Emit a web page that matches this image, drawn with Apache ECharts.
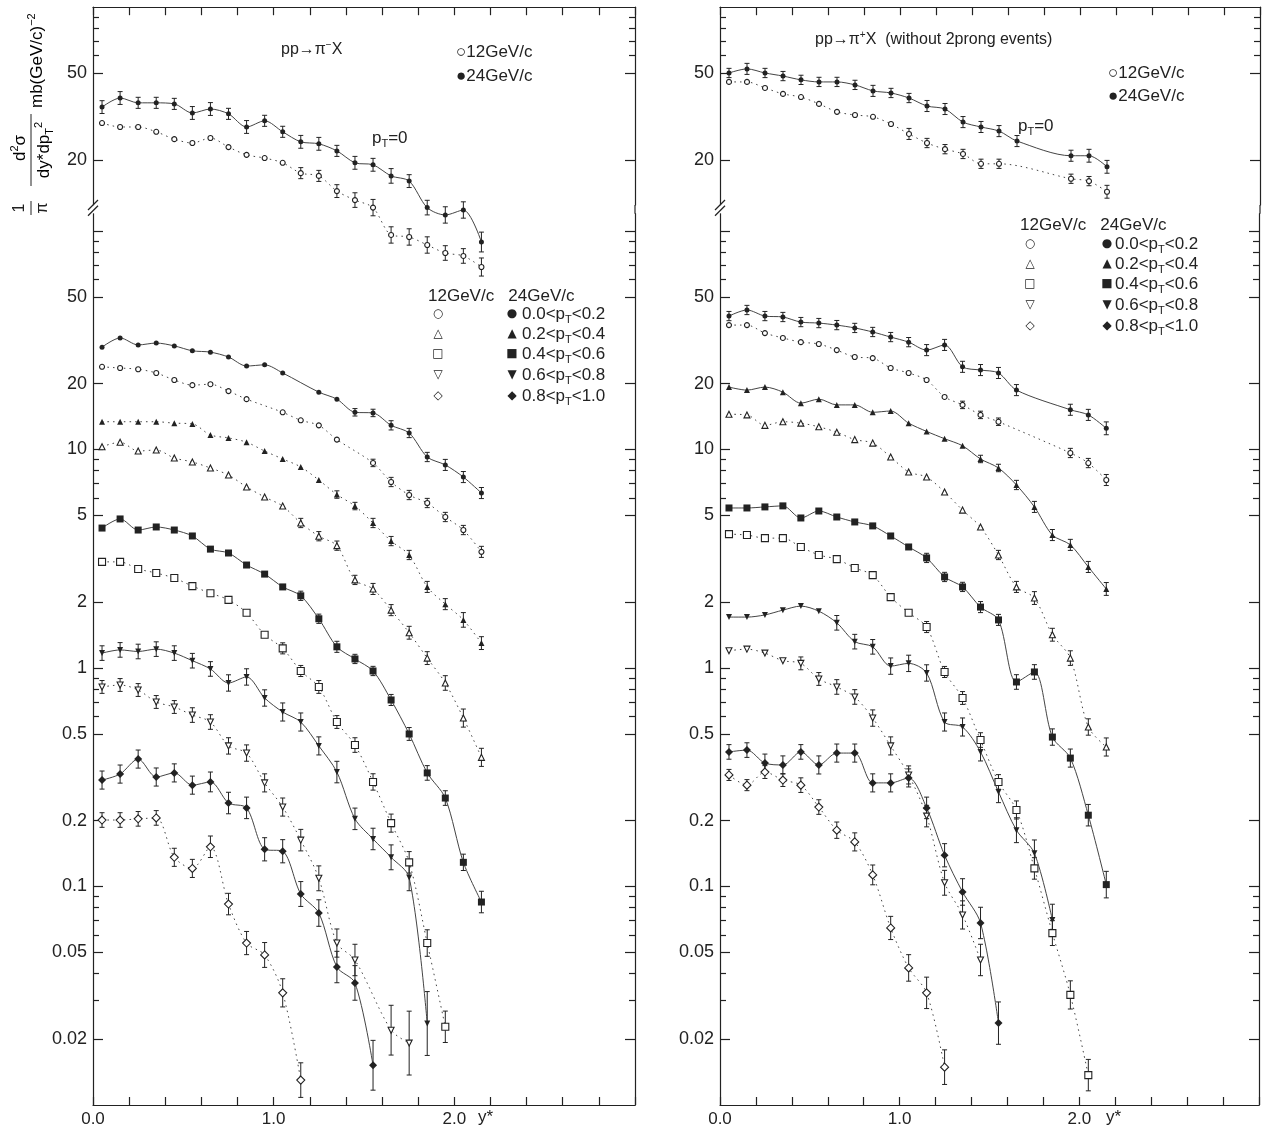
<!DOCTYPE html>
<html><head><meta charset="utf-8">
<script src="https://cdn.jsdelivr.net/npm/echarts@6/dist/echarts.min.js"></script>
<style>html,body{margin:0;padding:0;background:#fff}#c{width:1262px;height:1130px}</style>
</head><body><div id="c"></div>
<script>
// rapidity y* bin centres
const X = [0.05,0.15,0.25,0.35,0.45,0.55,0.65,0.75,0.85,0.95,1.05,1.15,1.25,1.35,1.45,1.55,1.65,1.75,1.85,1.95,2.05,2.15];

// ---- left panel: pp -> pi- X  (values, then error bars in %) ----
const L0_24 = [34.9,38.4,36.5,36.5,36.1,32.8,34.2,32.5,28.3,30.2,26.9,24.2,23.7,22.0,19.4,19.0,16.9,16.0,12.1,11.2,11.8,8.42];
const L0_12 = [29.5,28.3,28.3,26.9,24.9,23.9,25.2,22.9,21.1,20.4,19.4,17.4,16.9,14.4,13.1,12.1,9.07,8.88,8.16,7.50,7.27,6.47];
const L1_24 = [29.4,32.4,30.1,30.7,29.8,28.3,27.9,26.5,24.1,24.4,22.4,null,18.3,17.0,14.8,14.7,12.9,11.9,9.24,8.50,7.48,6.32];
const L1_12 = [23.9,23.6,23.3,22.4,20.8,19.7,19.9,18.5,17.0,null,14.8,13.6,12.9,11.1,null,8.68,7.10,6.19,5.69,4.91,4.28,3.40];
const L2_24 = [13.4,13.4,13.4,13.4,13.2,13.1,11.65,11.3,10.8,9.84,9.05,8.32,7.25,6.22,5.51,4.61,3.81,3.29,2.35,1.96,1.66,1.30];
const L2_12 = [10.3,10.8,9.84,9.95,9.14,8.77,8.23,7.64,6.74,6.06,5.51,4.61,4.01,3.63,2.53,2.30,1.84,1.45,1.11,0.854,0.59,0.39];
const L3_24 = [4.37,4.81,4.28,4.42,4.28,4.02,3.50,3.36,2.96,2.69,2.35,2.14,1.68,1.25,1.10,0.969,0.714,0.499,0.331,0.254,0.129,0.0849];
const L3_12 = [3.06,3.06,2.84,2.72,2.58,2.37,2.20,2.05,1.79,1.42,1.23,0.969,0.819,0.566,0.444,0.301,0.195,0.129,0.0551,0.0228,null,null];
const L4_24 = [1.17,1.21,1.19,1.22,1.17,1.08,0.99,0.854,0.91,0.729,0.629,0.566,0.44,0.334,0.204,0.165,0.136,0.110,0.0236,null,null,null];
const L4_12 = [0.819,0.836,0.793,0.699,0.663,0.609,0.566,0.44,0.408,0.298,0.231,0.163,0.109,0.0551,0.0461,null,0.0220,0.0192,null,null,null,null];
const L5_24 = [0.307,0.327,0.383,0.317,0.331,0.291,0.301,0.241,0.229,0.148,0.145,0.0924,0.0756,0.0428,0.0362,0.0152,null,null,null,null,null,null];
const L5_12 = [0.2015,0.2015,0.204,0.206,0.136,0.121,0.152,0.0831,0.0551,0.0486,0.0326,0.0130,null,null,null,null,null,null,null,null,null,null];

const L0_24e = [7,7,6,6,6,7,7,6,7,6,6,7,7,6,7,7,8,7,8,9,9,11];
const L0_12e = [0,0,0,0,0,0,0,0,0,0,0,6,6,7,8,9,9,9,9,8,8,10];
const L1_24e = [0,0,0,0,0,0,0,0,0,0,0,0,0,0,4,4,5,5,5,6,6,6];
const L1_12e = [0,0,0,0,0,0,0,0,0,0,0,0,0,0,0,4,5,5,5,5,5,6];
const L2_24e = [0,0,0,0,0,0,0,0,0,0,0,0,0,4,4,5,5,5,6,6,8,7];
const L2_12e = [0,0,0,0,0,0,0,0,0,0,0,5,5,5,5,6,6,7,7,8,10,10];
const L3_24e = [0,0,0,0,0,0,0,0,0,0,0,5,5,6,5,5,6,7,8,8,9,12];
const L3_12e = [0,0,0,0,0,0,0,0,0,0,6,6,7,7,8,9,10,12,15,18,0,0];
const L4_24e = [8,8,8,8,8,8,8,9,9,9,10,10,10,12,12,12,14,15,40,0,0,0];
const L4_12e = [7,7,7,7,7,8,8,9,9,10,10,12,14,16,18,0,30,40,0,0,0,0];
const L5_24e = [10,10,10,10,10,10,11,12,12,13,13,14,15,18,20,30,0,0,0,0,0,0];
const L5_12e = [8,8,8,8,10,10,12,12,13,14,16,20,0,0,0,0,0,0,0,0,0,0];

// ---- right panel: pp -> pi+ X (without 2prong events) ----
const R0_24 = [50.0,52.2,50.0,48.4,46.5,45.5,45.5,44.1,41.4,40.5,38.4,35.3,34.2,29.8,28.3,27.1,24.4,null,null,20.9,20.9,18.6];
const R0_12 = [45.5,45.5,42.7,40.1,38.8,36.1,33.2,32.1,31.5,29.2,26.3,23.9,22.4,21.3,19.2,19.2,null,null,null,16.4,16.0,14.3];
const R1_24 = [40.8,43.5,40.8,40.4,38.3,37.9,37.1,36.0,34.5,32.7,31.0,28.5,30.1,23.9,23.1,22.4,18.7,null,null,15.2,14.4,12.5];
const R1_12 = [37.1,37.1,34.1,32.4,31.0,30.4,28.5,26.5,26.2,23.6,22.4,20.8,17.4,16.0,14.4,13.4,null,null,null,9.64,8.67,7.25];
const R2_24 = [19.3,18.7,19.3,18.3,16.3,17.0,16.0,16.0,14.8,15.0,13.2,12.1,11.2,10.4,9.05,8.23,6.88,5.46,4.06,3.66,2.90,2.30];
const R2_12 = [14.5,14.4,12.9,13.4,13.2,12.7,12.0,11.1,10.7,9.24,7.89,7.48,6.39,5.28,4.42,3.29,2.35,2.09,1.42,1.11,0.537,0.435];
const R3_24 = [5.40,5.40,5.46,5.52,4.86,5.23,4.91,4.66,4.47,4.02,3.58,3.19,2.61,2.35,1.90,1.66,0.863,0.959,0.483,0.387,0.212,0.102];
const R3_12 = [4.10,4.06,3.93,3.93,3.58,3.29,3.15,2.87,2.66,2.11,1.79,1.54,0.959,0.729,0.468,0.301,0.224,0.121,0.0612,0.0319,0.0137,null];
const R4_24 = [1.71,1.71,1.75,1.84,1.92,1.82,1.61,1.32,1.25,1.02,1.05,0.949,0.566,0.537,0.413,0.271,0.181,0.142,0.0703,null,null,null];
const R4_12 = [1.20,1.22,1.17,1.08,1.05,0.891,0.819,0.737,0.59,0.44,0.324,0.21,0.104,0.0741,0.0461,null,null,null,null,null,null,null];
const R5_24 = [0.413,0.421,0.367,0.360,0.413,0.360,0.408,0.408,0.298,0.298,0.314,0.229,0.139,0.0944,0.0681,0.0237,null,null,null,null,null,null];
const R5_12 = [0.324,0.291,0.334,0.307,0.291,0.231,0.181,0.160,0.113,0.0646,0.0424,0.0326,0.0149,null,null,null,null,null,null,null,null,null];

const R0_24e = [5,6,5,5,5,5,5,5,6,5,5,6,6,6,6,6,6,0,0,6,7,7];
const R0_12e = [0,0,0,0,0,0,0,0,0,0,6,5,5,5,5,5,0,0,0,5,5,7];
const R1_24e = [5,5,5,5,5,5,5,5,5,5,5,6,6,6,6,6,6,0,0,6,6,7];
const R1_12e = [0,0,0,0,0,0,0,0,0,0,0,0,0,4,4,4,0,0,0,5,5,6];
const R2_24e = [0,0,0,0,0,0,0,0,0,0,0,0,0,0,4,4,5,6,6,6,6,7];
const R2_12e = [0,0,0,0,0,0,0,0,0,0,0,0,0,0,0,5,6,7,7,8,9,10];
const R3_24e = [0,0,0,0,0,0,0,0,0,0,0,5,5,5,6,6,8,8,9,10,12,15];
const R3_12e = [0,0,0,0,0,0,0,0,0,0,0,6,6,7,8,8,10,12,14,16,18,0];
const R4_24e = [0,0,0,0,0,0,8,8,8,9,9,9,10,10,10,12,14,15,18,0,0,0];
const R4_12e = [0,0,0,0,7,7,8,8,9,10,10,12,14,16,18,0,0,0,0,0,0,0];
const R5_24e = [8,8,10,10,8,10,10,10,10,10,10,12,13,15,18,25,0,0,0,0,0,0];
const R5_12e = [6,6,7,7,8,8,9,10,11,13,15,18,20,0,0,0,0,0,0,0,0,0];

// ---- axis tick values ----
const UP_MAJOR = [20,50];
const UP_MINOR = [60,70,80,90];
const LO_LABELS = [0.02,0.05,0.1,0.2,0.5,1,2,5,10,20,50];
const LO_MAJOR = [0.02,0.05,0.1,0.2,0.5,1,2,5,10,20,50,100];
const LO_MINOR = [0.03,0.04,0.06,0.07,0.08,0.09,0.6,0.7,0.8,0.9,6,7,8,9,60,70,80,90];
const XLABELS = [0,1,2];

// ---- layout ----
const PX_DEC = 218.5;               // pixels per decade
const FONT = 'Liberation Sans, Arial, sans-serif';
const INK = '#222';
const panels = [{left:93, width:542}, {left:720, width:540}];
const UP = {min:12.44, max:100, top:7.2};
const LO = {min:0.01, max:120, bottom:1105};
const upH = PX_DEC*Math.log10(UP.max/UP.min);
const loH = PX_DEC*Math.log10(LO.max/LO.min);

const grid = [], xAxis = [], yAxis = [];
panels.forEach(p => {
  grid.push({left:p.left, width:p.width, top:UP.top, height:upH});
  grid.push({left:p.left, width:p.width, top:LO.bottom-loH, height:loH});
});
const lineS = {color:INK, width:1.2};
panels.forEach((p, pi) => {
  const g0 = pi*2, g1 = pi*2+1;
  xAxis.push({type:'value', gridIndex:g0, min:0, max:3, interval:0.2, position:'top',
    axisLine:{show:true, onZero:false, lineStyle:lineS}, axisTick:{inside:true, length:8, lineStyle:lineS},
    axisLabel:{show:false}, splitLine:{show:false}});
  xAxis.push({type:'value', gridIndex:g1, min:0, max:3, interval:0.2, position:'bottom',
    axisLine:{show:true, onZero:false, lineStyle:lineS}, axisTick:{inside:true, length:8, lineStyle:lineS},
    axisLabel:{show:true, margin:6, fontFamily:FONT, fontSize:17, color:INK,
      formatter: v => XLABELS.some(t => Math.abs(t - v) < 1e-6) ? v.toFixed(1) : ''},
    splitLine:{show:false}});
  [[g0, UP, UP_MAJOR, UP_MINOR, UP_MAJOR], [g1, LO, LO_MAJOR, LO_MINOR, LO_LABELS]].forEach(([g, r, maj, mnr, lab]) => {
    const fmt = v => String(+Number(v).toPrecision(3));
    ['left','right'].forEach(pos => {
      yAxis.push({type:'log', logBase:10, gridIndex:g, min:r.min, max:r.max, position:pos,
        axisLine:{show:true, onZero:false, lineStyle:lineS},
        axisTick:{show:true, inside:true, length:10, customValues:maj, lineStyle:lineS},
        axisLabel:{show:pos==='left', customValues:lab, formatter:fmt, margin:6, fontFamily:FONT, fontSize:18, color:INK},
        splitLine:{show:false}});
      yAxis.push({type:'log', logBase:10, gridIndex:g, min:r.min, max:r.max, position:pos,
        axisLine:{show:false, onZero:false},
        axisTick:{show:true, inside:true, length:6, customValues:mnr, lineStyle:lineS},
        axisLabel:{show:false}, splitLine:{show:false}});
    });
  });
});

// series helpers
const series = [];
function errBars(arr, err, xi, yi) {
  const data = [];
  X.forEach((x, i) => { if (arr[i] != null && err[i] > 0) data.push([x, arr[i], err[i]]); });
  series.push({type:'custom', xAxisIndex:xi, yAxisIndex:yi, data, clip:false, silent:true, z:1,
    renderItem: (params, api) => {
      const x = api.value(0), v = api.value(1), e = api.value(2)/100;
      const a = api.coord([x, v*(1+e)]), b = api.coord([x, v/(1+e)]);
      const st = {stroke:INK, lineWidth:1};
      return {type:'group', children:[
        {type:'line', shape:{x1:a[0], y1:a[1], x2:b[0], y2:b[1]}, style:st},
        {type:'line', shape:{x1:a[0]-2.5, y1:a[1], x2:a[0]+2.5, y2:a[1]}, style:st},
        {type:'line', shape:{x1:b[0]-2.5, y1:b[1], x2:b[0]+2.5, y2:b[1]}, style:st}
      ]};
    }});
}
function addSeries(name, arr, err, xi, yi, shape, filled, size, dash, rot) {
  const data = [];
  X.forEach((x, i) => { if (arr[i] != null) data.push([x, arr[i]]); });
  errBars(arr, err, xi, yi);
  series.push({
    name, type:'line', xAxisIndex:xi, yAxisIndex:yi, data, clip:false, smooth:0.3,
    symbol:shape, symbolSize:size, symbolRotate:rot||0, showSymbol:true,
    lineStyle:{color:'#444', width:1, type:dash ? [1.5,4] : 'solid'},
    itemStyle: filled ? {color:INK, borderColor:INK, borderWidth:0}
                      : {color:'#fff', borderColor:INK, borderWidth:1.1},
    emphasis:{disabled:true}, z: filled ? 3 : 2
  });
}
// left panel (x axes 0/1, y axes 0/4)
addSeries('L pT=0 24', L0_24, L0_24e, 0, 0, 'circle', true, 5, false);
addSeries('L pT=0 12', L0_12, L0_12e, 0, 0, 'circle', false, 5, true);
addSeries('L 0.0-0.2 24', L1_24, L1_24e, 1, 4, 'circle', true, 5, false);
addSeries('L 0.0-0.2 12', L1_12, L1_12e, 1, 4, 'circle', false, 5, true);
addSeries('L 0.2-0.4 24', L2_24, L2_24e, 1, 4, 'triangle', true, 6, true);
addSeries('L 0.2-0.4 12', L2_12, L2_12e, 1, 4, 'triangle', false, 6, true);
addSeries('L 0.4-0.6 24', L3_24, L3_24e, 1, 4, 'rect', true, 7, false);
addSeries('L 0.4-0.6 12', L3_12, L3_12e, 1, 4, 'rect', false, 7, true);
addSeries('L 0.6-0.8 24', L4_24, L4_24e, 1, 4, 'triangle', true, 6, false, 180);
addSeries('L 0.6-0.8 12', L4_12, L4_12e, 1, 4, 'triangle', false, 6, true, 180);
addSeries('L 0.8-1.0 24', L5_24, L5_24e, 1, 4, 'diamond', true, 8, false);
addSeries('L 0.8-1.0 12', L5_12, L5_12e, 1, 4, 'diamond', false, 8, true);
// right panel (x axes 2/3, y axes 8/12)
addSeries('R pT=0 24', R0_24, R0_24e, 2, 8, 'circle', true, 5, false);
addSeries('R pT=0 12', R0_12, R0_12e, 2, 8, 'circle', false, 5, true);
addSeries('R 0.0-0.2 24', R1_24, R1_24e, 3, 12, 'circle', true, 5, false);
addSeries('R 0.0-0.2 12', R1_12, R1_12e, 3, 12, 'circle', false, 5, true);
addSeries('R 0.2-0.4 24', R2_24, R2_24e, 3, 12, 'triangle', true, 6, false);
addSeries('R 0.2-0.4 12', R2_12, R2_12e, 3, 12, 'triangle', false, 6, true);
addSeries('R 0.4-0.6 24', R3_24, R3_24e, 3, 12, 'rect', true, 7, false);
addSeries('R 0.4-0.6 12', R3_12, R3_12e, 3, 12, 'rect', false, 7, true);
addSeries('R 0.6-0.8 24', R4_24, R4_24e, 3, 12, 'triangle', true, 6, false, 180);
addSeries('R 0.6-0.8 12', R4_12, R4_12e, 3, 12, 'triangle', false, 6, true, 180);
addSeries('R 0.8-1.0 24', R5_24, R5_24e, 3, 12, 'diamond', true, 8, false);
addSeries('R 0.8-1.0 12', R5_12, R5_12e, 3, 12, 'diamond', false, 8, true);

// ---- annotations ----
const T = (x, y, rich, text, size, extra) => Object.assign({type:'text', x, y, silent:true,
  style:{text, fontFamily:FONT, fontSize:size||17, fill:INK, rich, textVerticalAlign:'middle'}}, extra||{});
const RICH = {
  a:{fontFamily:FONT, fontSize:17, color:INK},
  s:{fontFamily:FONT, fontSize:11, color:INK, padding:[12,0,0,0]},
  u:{fontFamily:FONT, fontSize:11, color:INK, padding:[0,0,10,0]},
  t:{fontFamily:FONT, fontSize:16, color:INK},
  ts:{fontFamily:FONT, fontSize:10, color:INK, padding:[0,0,9,0]}
};
const PT_ROWS = ['0.0','0.2','0.4','0.6','0.8','1.0'];
const OPEN = ['○','△','□','▽','◇'];
const FILL = ['●','▲','■','▼','◆'];
const graphic = [];
function legend(hx, hy, ox, fx, tx, ys) {
  graphic.push(T(hx, hy, RICH, '{a|12GeV/c   24GeV/c}'));
  ys.forEach((y, i) => {
    graphic.push(T(ox, y, null, OPEN[i], 13, {style:{text:OPEN[i], fontFamily:'DejaVu Sans', fontSize:12, fill:INK, textVerticalAlign:'middle', textAlign:'center'}}));
    graphic.push(T(fx, y, null, FILL[i], 13, {style:{text:FILL[i], fontFamily:'DejaVu Sans', fontSize:12, fill:INK, textVerticalAlign:'middle', textAlign:'center'}}));
    graphic.push(T(tx, y, RICH, '{a|' + PT_ROWS[i] + '<p}{s|T}{a|<' + PT_ROWS[i+1] + '}'));
  });
}
// left
graphic.push(T(281, 50, RICH, '{t|pp→π}{ts|−}{t|X}'));
graphic.push(T(456, 52, RICH, '{a|○12GeV/c}'));
graphic.push(T(456, 76, RICH, '{a|●24GeV/c}'));
graphic.push(T(372, 138, RICH, '{a|p}{s|T}{a|=0}'));
legend(428, 296, 438, 512, 522, [314, 334, 354, 375, 396]);
// right
graphic.push(T(815, 40, RICH, '{t|pp→π}{ts|+}{t|X  (without 2prong events)}'));
graphic.push(T(1108, 73, RICH, '{a|○12GeV/c}'));
graphic.push(T(1108, 96, RICH, '{a|●24GeV/c}'));
graphic.push(T(1018, 126, RICH, '{a|p}{s|T}{a|=0}'));
legend(1020, 225, 1030, 1107, 1115, [244, 264, 284, 305, 326]);
// y* labels
graphic.push(T(478, 1117, RICH, '{a|y*}'));
graphic.push(T(1106, 1117, RICH, '{a|y*}'));
// axis breaks and right-edge joins
const upBottom = UP.top + upH, loTop = LO.bottom - loH;
panels.forEach(p => {
  graphic.push({type:'rect', shape:{x:p.left-6, y:upBottom+0.5, width:12, height:loTop-upBottom-1}, style:{fill:'#fff'}, z:50, silent:true});
  [upBottom-1, loTop-4].forEach(y => graphic.push({type:'line', shape:{x1:p.left-5, y1:y+6, x2:p.left+5, y2:y-4}, style:{stroke:INK, lineWidth:1.3}, z:51, silent:true}));
  graphic.push({type:'line', shape:{x1:p.left+p.width, y1:upBottom, x2:p.left+p.width, y2:loTop}, style:{stroke:INK, lineWidth:1.2}, z:51, silent:true});
});
// rotated y-axis title
graphic.push({type:'group', x:32, y:222, rotation:Math.PI/2, silent:true, children:[
  {type:'text', x:14, y:-12, style:{text:'1', fontFamily:FONT, fontSize:16, fill:INK, textAlign:'center', textVerticalAlign:'middle'}},
  {type:'line', shape:{x1:7, y1:-1, x2:21, y2:-1}, style:{stroke:INK, lineWidth:1}},
  {type:'text', x:14, y:11, style:{text:'π', fontFamily:FONT, fontSize:16, fill:INK, textAlign:'center', textVerticalAlign:'middle'}},
  {type:'text', x:74, y:-12, style:{text:'{a|d}{u|2}{a|σ}', rich:RICH, textAlign:'center', textVerticalAlign:'middle'}},
  {type:'line', shape:{x1:36, y1:-1, x2:108, y2:-1}, style:{stroke:INK, lineWidth:1}},
  {type:'text', x:72, y:12, style:{text:'{a|dy*dp}{s|T}{u|2}', rich:RICH, textAlign:'center', textVerticalAlign:'middle'}},
  {type:'text', x:114, y:5, style:{text:'{a|mb(GeV/c)}{u|−2}', rich:RICH, textAlign:'left', textVerticalAlign:'middle'}}
]});

const chart = echarts.init(document.getElementById('c'), null, {renderer:'canvas'});
chart.setOption({animation:false, backgroundColor:'#fff', grid, xAxis, yAxis, series, graphic});
</script>
</body></html>
